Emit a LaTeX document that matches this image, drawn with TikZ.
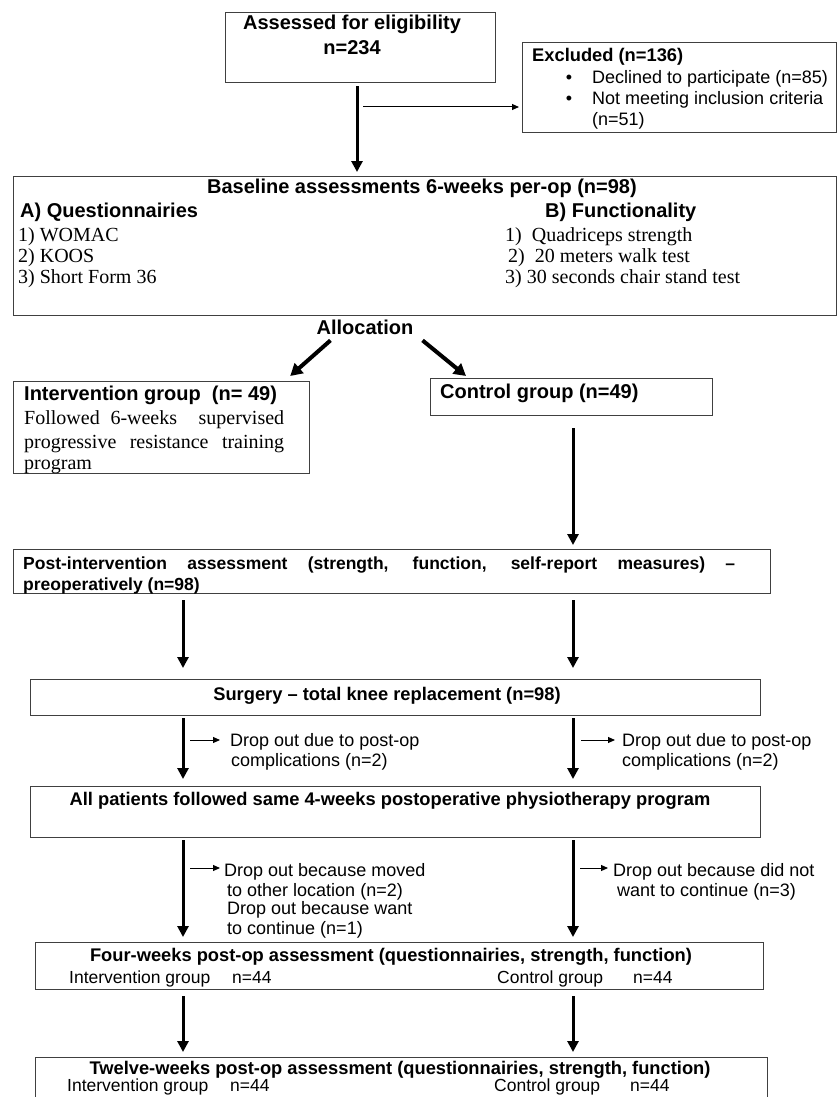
\documentclass[tikz,border=0pt]{standalone}
\usepackage{fontspec}
\setmainfont{Liberation Serif}
\newfontfamily\arialf{Liberation Sans}
\usetikzlibrary{arrows.meta}
\begin{document}
\begin{tikzpicture}[x=1pt,y=-1pt,
  box/.style={draw=black!75, line width=1.2pt, inner sep=0pt, anchor=north west},
  hdA/.style={font=\arialf\bfseries\fontsize{20}{24}\selectfont, inner sep=0pt},
  hdB/.style={font=\arialf\bfseries\fontsize{18.3}{22}\selectfont, inner sep=0pt},
  hdC/.style={font=\arialf\bfseries\fontsize{17.5}{21}\selectfont, inner sep=0pt},
  rg/.style={font=\arialf\fontsize{18}{21}\selectfont, inner sep=0pt},
  rgs/.style={font=\arialf\fontsize{17.5}{21}\selectfont, inner sep=0pt},
  tm/.style={font=\fontsize{20}{23}\selectfont, inner sep=0pt},
  mainarrow/.style={line width=3pt, -{Triangle[length=11pt,width=11pt]}},
  diagarrow/.style={line width=4pt, -{Triangle[length=12pt,width=13pt]}},
  thinarrow/.style={line width=1pt, -{Triangle[length=7pt,width=6pt]}},
]
\useasboundingbox (0,0) rectangle (837,1097);

% columns for vertical arrows
\coordinate (a1) at (357,0);
\coordinate (cl) at (183,0);
\coordinate (cr) at (573,0);

% ---- Assessed
\node[box, minimum width=270pt, minimum height=70pt] (assess) at (225,12) {};
\node[hdA, anchor=base] (assessT) at (352,30) {Assessed for eligibility};
\node[hdA, anchor=base] (assessN) at (352,55) {n=234};

% ---- Excluded
\node[box, minimum width=314pt, minimum height=90pt] (excl) at (522,42) {};
\node[hdB, anchor=base west] (exclT) at (532,62) {Excluded (n=136)};
\node[rg, anchor=base] (b1) at (569,84) {•};
\node[rg, anchor=base west] (e1) at (592,84) {Declined to participate (n=85)};
\node[rg, anchor=base] (b2) at (569,105) {•};
\node[rg, anchor=base west] (e2) at (592,105) {Not meeting inclusion criteria};
\node[rg, anchor=base west] (e3) at (592,125) {(n=51)};

\coordinate (h1) at (363,107);
\draw[thinarrow, shorten >=3pt] (h1) -- (h1 -| excl.west);

% ---- Baseline
\node[box, minimum width=823pt, minimum height=139pt] (base) at (13,176) {};
\draw[mainarrow] ([yshift=-3pt]assess.south -| a1) -- ([yshift=4pt]base.north -| a1);
\node[hdA, anchor=base] (baseT) at (422,193) {Baseline assessments 6-weeks per-op (n=98)};
\node[hdA, anchor=base west] (qA) at (20,217) {A) Questionnairies};
\node[hdA, anchor=base west] (qB) at (545,217) {B) Functionality};
\node[tm, anchor=base west] (q1) at (18,241) {1) WOMAC};
\node[tm, anchor=base west] (q2) at (18,262) {2) KOOS};
\node[tm, anchor=base west] (q3) at (18,283) {3) Short Form 36};
\node[tm, anchor=base west] (f1) at (505,241) {1)\ \ Quadriceps strength};
\node[tm, anchor=base west] (f2) at (508,262) {2)\ \ 20 meters walk test};
\node[tm, anchor=base west] (f3) at (505,283) {3) 30 seconds chair stand test};

% ---- Allocation
\node[hdA, anchor=base] (alloc) at (365,334) {Allocation};
\node[box, minimum width=296pt, minimum height=92pt] (interv) at (13,381) {};
\node[box, minimum width=282pt, minimum height=37pt] (ctrl) at (430,378) {};
\draw[diagarrow] ([shift={(14pt,-6pt)}]alloc.south west) -- ([shift={(-20pt,5pt)}]interv.north east);
\draw[diagarrow] ([shift={(9pt,-6pt)}]alloc.south east) -- ([shift={(36pt,2pt)}]ctrl.north west);

\node[hdA, anchor=base west] (intT) at (24,400) {Intervention group\ \ (n= 49)};
\node[tm, anchor=base west] (int1) at (24,424) {\makebox[260pt][s]{Followed 6-weeks\ \ supervised}};
\node[tm, anchor=base west] (int2) at (24,448) {\makebox[260pt][s]{progressive resistance training}};
\node[tm, anchor=base west] (int3) at (24,469) {program};
\node[hdA, anchor=base west] (ctrlT) at (440,398) {Control group (n=49)};

% ---- Post-intervention
\node[box, minimum width=757pt, minimum height=44pt] (post) at (13,549) {};
\draw[mainarrow] ([yshift=-12pt]ctrl.south -| cr) -- ([yshift=4pt]post.north -| cr);
\node[hdC, anchor=base west] (postT1) at (23,569) {\makebox[712pt][s]{Post-intervention assessment (strength, function, self-report measures) –}};
\node[hdC, anchor=base west] (postT2) at (23,590) {preoperatively (n=98)};

% ---- Surgery
\node[box, minimum width=730pt, minimum height=36pt] (surg) at (30,679) {};
\draw[mainarrow] ([yshift=-6pt]post.south -| cl) -- ([yshift=11pt]surg.north -| cl);
\draw[mainarrow] ([yshift=-6pt]post.south -| cr) -- ([yshift=11pt]surg.north -| cr);
\node[hdB, anchor=base] (surgT) at (387,700) {Surgery – total knee replacement (n=98)};

% ---- All patients
\node[box, minimum width=730pt, minimum height=51pt] (allp) at (30,786) {};
\draw[mainarrow] ([yshift=-2pt]surg.south -| cl) -- ([yshift=7pt]allp.north -| cl);
\draw[mainarrow] ([yshift=-2pt]surg.south -| cr) -- ([yshift=7pt]allp.north -| cr);
\node[hdB, anchor=base] (allpT) at (390,805) {All patients followed same 4-weeks postoperative physiotherapy program};

\node[rg, anchor=base west] (d1a) at (230,746) {Drop out due to post-op};
\node[rg, anchor=base west] (d1b) at (231,766) {complications (n=2)};
\node[rg, anchor=base west] (d2a) at (622,746) {Drop out due to post-op};
\node[rg, anchor=base west] (d2b) at (622,766) {complications (n=2)};
\coordinate (s1) at (190,740);
\coordinate (s2) at (581,740);
\draw[thinarrow, shorten >=10pt] (s1) -- (s1 -| d1a.west);
\draw[thinarrow, shorten >=7pt] (s2) -- (s2 -| d2a.west);

% ---- Four weeks
\node[box, minimum width=728pt, minimum height=47pt] (four) at (35,942) {};
\draw[mainarrow] ([yshift=-2pt]allp.south -| cl) -- ([yshift=5pt]four.north -| cl);
\draw[mainarrow] ([yshift=-2pt]allp.south -| cr) -- ([yshift=5pt]four.north -| cr);
\node[rg, anchor=base west] (m1a) at (224,876) {Drop out because moved};
\node[rg, anchor=base west] (m1b) at (227,896) {to other location (n=2)};
\node[rg, anchor=base west] (m1c) at (227,914) {Drop out because want};
\node[rg, anchor=base west] (m1d) at (227,934) {to continue (n=1)};
\node[rg, anchor=base west] (m2a) at (613,876) {Drop out because did not};
\node[rg, anchor=base west] (m2b) at (617,896) {want to continue (n=3)};
\coordinate (s3) at (190,868);
\coordinate (s4) at (580,868);
\draw[thinarrow, shorten >=4pt] (s3) -- (s3 -| m1a.west);
\draw[thinarrow, shorten >=5pt] (s4) -- (s4 -| m2a.west);

\node[hdB, anchor=base] (fourT) at (391,961) {Four-weeks post-op assessment (questionnairies, strength, function)};
\node[rgs, anchor=base west] (fourI) at (69,983) {Intervention group\hspace{22pt}n=44};
\node[rgs, anchor=base west] (fourC) at (497,983) {Control group\hspace{30pt}n=44};

% ---- Twelve weeks
\node[box, minimum width=732pt, minimum height=60pt] (twelve) at (35,1057) {};
\draw[mainarrow] ([yshift=-6pt]four.south -| cl) -- ([yshift=5pt]twelve.north -| cl);
\draw[mainarrow] ([yshift=-6pt]four.south -| cr) -- ([yshift=5pt]twelve.north -| cr);
\node[hdB, anchor=base] (twT) at (400,1074) {Twelve-weeks post-op assessment (questionnairies, strength, function)};
\node[rgs, anchor=base west] (twI) at (67,1091) {Intervention group\hspace{22pt}n=44};
\node[rgs, anchor=base west] (twC) at (494,1091) {Control group\hspace{30pt}n=44};
\end{tikzpicture}
\end{document}
